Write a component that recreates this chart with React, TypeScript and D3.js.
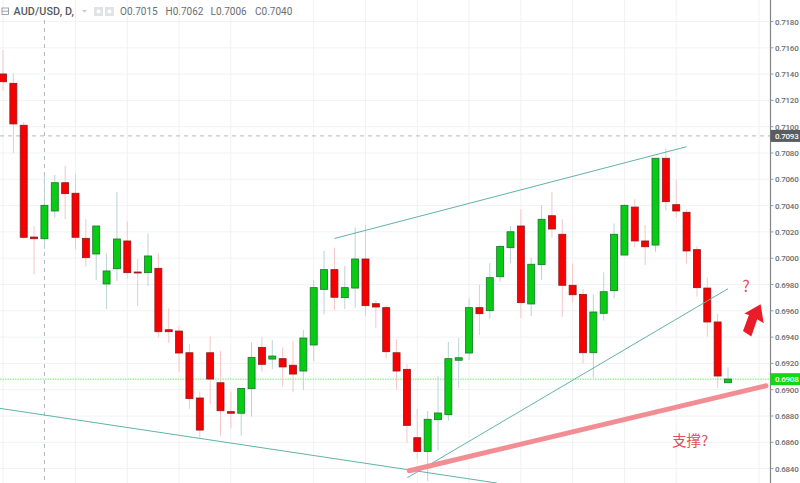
import React, { useEffect, useRef } from "react";
import * as d3 from "d3";

const W = 800;
const H = 483;

// Daily candles, prices in units of 0.00001
const opens = [71401,71330,71011,70161,70148,70359,70574,70494,70151,70032,69804,69920,70131,69895,69890,69923,69456,69446,69281,68937,69281,69053,68833,68821,69008,69322,69233,69236,69186,69142,69340,69763,69913,69700,69773,69994,69654,69624,69281,69155,68635,68531,68772,68810,69224,69279,69624,69601,69859,70080,70245,69652,69951,70323,70182,69794,69725,69281,69581,69753,70024,70389,70131,70100,70760,70407,70349,70065,69773,69515,69053];
const highs = [71583,71406,71036,70245,70633,70633,70703,70640,70296,70245,70037,70503,70278,69994,70189,70037,69619,69484,69345,68985,69406,69294,68985,69013,69360,69403,69378,69322,69373,69454,69834,70055,70080,69943,70235,70252,69682,69639,69383,69195,68853,68838,69104,69363,69395,69695,69796,69963,70100,70245,70372,70004,70402,70503,70296,69961,69766,69725,69893,70265,70412,70450,70252,70760,70836,70595,70372,70090,69852,69576,69170];
const lows = [71274,70798,70148,69877,70070,70308,70296,70068,69935,69834,69614,69824,69844,69636,69789,69398,69357,69135,68855,68633,68889,68650,68706,68650,68795,69137,69155,69023,68980,68998,69218,69573,69601,69614,69624,69563,69467,69239,69003,68597,68475,68306,68536,68764,69015,69226,69416,69538,69821,69963,69543,69560,69834,70156,69553,69665,69201,69094,69525,69695,70024,70083,69948,70049,70361,70308,69958,69707,69403,69015,69053];
const closes = [71342,71021,70159,70148,70402,70574,70491,70159,70004,70245,69903,70146,69890,69890,70017,69441,69441,69279,68932,68693,69081,68840,68821,69010,69246,69193,69256,69173,69119,69393,69776,69913,69703,69776,69994,69639,69629,69289,69142,68729,68531,68775,68823,69236,69243,69624,69578,69852,70090,70201,69662,69954,70296,70222,69794,69722,69281,69591,69745,70182,70402,70131,70087,70760,70430,70359,70055,69776,69515,69104,69081];

const priceTicks = [0.718,0.716,0.714,0.712,0.71,0.708,0.706,0.704,0.702,0.7,0.698,0.696,0.694,0.692,0.69,0.688,0.686,0.684];
const gridBars = [0,7,12,17,22,30,35,40,45,50,55,60,65,73];
const crossBar = 4;
const crossPrice = 0.7093;
const lastPrice = 0.6908;
const legendLetters = ["O", "H", "L", "C"];
const legendValues = ["0.7015", "0.7062", "0.7006", "0.7040"];
const legendX = [120, 165.5, 210.5, 255];

// Drawn trend lines as [bar, price] pairs
const upperChannel: [number, number][] = [[32, 0.7015], [66, 0.70848]];
const lowerFalling: [number, number][] = [[-0.29, 0.68858], [47.7, 0.6829]];
const risingSupport: [number, number][] = [[39.04, 0.68331], [70, 0.69768]];
const thickSupport: [number, number][] = [[39.23, 0.68384], [73.67, 0.6903]];
const arrowShape: [number, number][] = [[73.15,0.69650],[73.45,0.69505],[72.82,0.69535],[72.25,0.69405],[71.45,0.69446],[72.02,0.69568],[71.58,0.69580]];

const RED = "#f60000";
const GREEN = "#08cc14";

function App() {
  const ref = useRef<SVGSVGElement>(null);

  useEffect(() => {
    const svg = d3.select(ref.current);
    svg.selectAll("*").remove();

    const x = d3.scaleLinear().domain([0, 70]).range([3, 728]);
    const y = d3.scaleLinear().domain([0.708, 0.684]).range([153, 468.6]);
    const axisX = 770.5;
    const font = "Roboto, 'Liberation Sans', sans-serif";

    svg.append("rect").attr("width", W).attr("height", H).attr("fill", "#fff");

    const grid = svg.append("g").attr("stroke", "#f0f2f3").attr("stroke-width", 1);
    priceTicks.forEach((p) => {
      grid.append("line").attr("x1", 0).attr("x2", axisX).attr("y1", y(p)).attr("y2", y(p));
    });
    gridBars.forEach((b) => {
      grid.append("line").attr("x1", x(b)).attr("x2", x(b)).attr("y1", 0).attr("y2", H);
    });

    // crosshair
    const cross = svg.append("g").attr("stroke", "#b4b8ba").attr("stroke-width", 1).attr("stroke-dasharray", "4 4");
    cross.append("line").attr("x1", x(crossBar)).attr("x2", x(crossBar)).attr("y1", 20).attr("y2", H);
    cross.append("line").attr("x1", 0).attr("x2", axisX).attr("y1", y(crossPrice)).attr("y2", y(crossPrice));

    // last price line
    svg.append("line").attr("x1", 0).attr("x2", axisX).attr("y1", y(lastPrice)).attr("y2", y(lastPrice))
      .attr("stroke", "#8fee8f").attr("stroke-width", 1.2).attr("stroke-dasharray", "1.5 1");

    // candles
    const candles = d3.range(opens.length).map((i) => ({ i, o: opens[i] / 1e5, h: highs[i] / 1e5, l: lows[i] / 1e5, c: closes[i] / 1e5 }));
    const up = (d: { o: number; c: number }) => d.c > d.o;
    svg.append("g").selectAll("line").data(candles).join("line")
      .attr("x1", (d) => x(d.i)).attr("x2", (d) => x(d.i))
      .attr("y1", (d) => y(d.h)).attr("y2", (d) => y(d.l))
      .attr("stroke", (d) => (up(d) ? "#bcd3d6" : "#f6c6c8")).attr("stroke-width", 1);
    svg.append("g").selectAll("rect").data(candles).join("rect")
      .attr("x", (d) => x(d.i) - 3.5)
      .attr("width", 7)
      .attr("y", (d) => y(Math.max(d.o, d.c)))
      .attr("height", (d) => Math.max(1, y(Math.min(d.o, d.c)) - y(Math.max(d.o, d.c))))
      .attr("fill", (d) => (up(d) ? GREEN : RED))
      .attr("stroke", (d) => (up(d) ? "#17752a" : "#8a1c20"))
      .attr("stroke-width", 0.8);

    // trend lines
    const line = d3.line<[number, number]>().x((d) => x(d[0])).y((d) => y(d[1]));
    [upperChannel, lowerFalling, risingSupport].forEach((pts) => {
      svg.append("path").attr("d", line(pts)).attr("fill", "none").attr("stroke", "#62b3a6").attr("stroke-width", 1);
    });
    svg.append("path").attr("d", line(thickSupport)).attr("fill", "none").attr("stroke", "#f28d93").attr("stroke-width", 5).attr("stroke-linecap", "round");
    svg.append("path").attr("d", line(arrowShape) + "Z").attr("fill", "#ea1c28");

    svg.append("text").attr("x", 746).attr("y", 292).attr("text-anchor", "middle")
      .attr("font-family", "'Noto Sans CJK SC', sans-serif").attr("font-size", 16).attr("fill", "#e0505a").text("?");
    svg.append("text").attr("x", 672).attr("y", 445.5)
      .attr("font-family", "'Noto Sans CJK SC', sans-serif").attr("font-size", 14.6).attr("fill", "#e0505a").text("支撑?");

    // price axis
    svg.append("rect").attr("x", axisX).attr("y", 0).attr("width", W - axisX).attr("height", H).attr("fill", "#fff");
    svg.append("line").attr("x1", axisX).attr("x2", axisX).attr("y1", 0).attr("y2", H).attr("stroke", "#808486").attr("stroke-width", 1.2);
    const axisG = svg.append("g");
    const labelSize = 8;
    const labelSpacing = -0.25;
    priceTicks.forEach((p) => {
      axisG.append("line").attr("x1", axisX).attr("x2", axisX + 3).attr("y1", y(p)).attr("y2", y(p)).attr("stroke", "#9a9ea0");
      axisG.append("text").attr("x", 775).attr("y", y(p) + 3)
        .attr("font-family", font).attr("font-size", labelSize).attr("letter-spacing", labelSpacing).attr("font-weight", 500).attr("fill", "#6a6e70").text(p.toFixed(4));
    });
    const tag = (p: number, fill: string) => {
      svg.append("rect").attr("x", axisX).attr("y", y(p) - 6).attr("width", W - axisX).attr("height", 12).attr("fill", fill);
      svg.append("text").attr("x", 775).attr("y", y(p) + 3.1)
        .attr("font-family", font).attr("font-size", labelSize).attr("letter-spacing", labelSpacing).attr("font-weight", 500).attr("fill", "#fff").text(p.toFixed(4));
    };
    tag(crossPrice, "#5a5c5e");
    tag(lastPrice, "#12d812");

    // header
    svg.append("rect").attr("x", 2).attr("y", 8).attr("width", 6.5).attr("height", 6.5).attr("fill", "none").attr("stroke", "#8a8e90").attr("stroke-width", 0.8);
    svg.append("line").attr("x1", 2).attr("x2", 8.5).attr("y1", 11.2).attr("y2", 11.2).attr("stroke", "#8a8e90").attr("stroke-width", 0.8);
    svg.append("text").attr("x", 13.5).attr("y", 15.2).attr("font-family", font).attr("font-size", 10.8).attr("font-weight", 500)
      .attr("letter-spacing", 0.1).attr("fill", "#55595c").text("AUD/USD, D,");
    svg.append("path").attr("d", "M82 10h5l-2.5 2.5z").attr("fill", "#c8cacc");
    [94, 105].forEach((bx) => {
      svg.append("rect").attr("x", bx).attr("y", 7).attr("width", 9).attr("height", 9).attr("fill", "#e0e2e3");
      svg.append("circle").attr("cx", bx + 4.5).attr("cy", 11.5).attr("r", 2).attr("fill", "#fff");
    });
    legendLetters.forEach((letter, i) => {
      svg.append("text").attr("x", legendX[i]).attr("y", 15.2).attr("font-family", font).attr("font-size", 10)
        .attr("fill", "#6a6e70").text(letter + legendValues[i]);
    });
  }, []);

  return <svg ref={ref} width={W} height={H} style={{ position: "absolute", left: 0, top: 0, display: "block" }} />;
}

export default App;
